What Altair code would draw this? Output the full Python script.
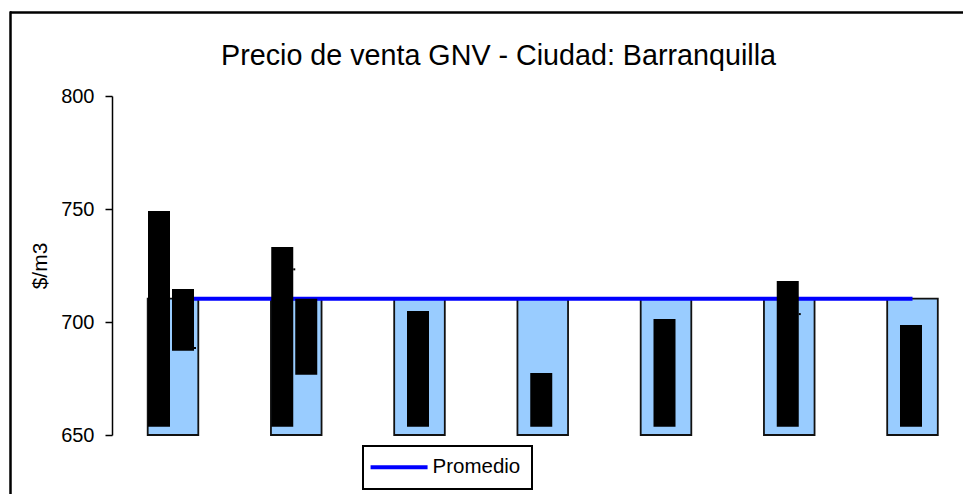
import altair as alt
import pandas as pd

# ---- data ----
categorias = ["1", "2", "3", "4", "5", "6", "7"]
promedio = 710.3
precio_min = [653.7, 653.7, 653.7, 653.7, 653.7, 653.7, 653.7]
precio_max = [749.1, 733.2, 704.9, 677.4, 701.3, 718.1, 698.7]
# second black bar, present only in the first two categories
segunda_min = [687.3, 676.7]
segunda_max = [714.6, 710.3]
# small close ticks
marca_cat = [0, 1, 5]
marca_val = [688.5, 723.3, 703.5]

FONT = "Liberation Sans"
STEP_PX = 123.25
def px(p):
    return p / STEP_PX

idx = list(range(len(categorias)))

azul = pd.DataFrame({
    "i": idx,
    "x0": [i - px(25.3) for i in idx],
    "x1": [i + px(25.3) for i in idx],
    "y0": [650] * 7,
    "y1": [promedio] * 7,
})

# main black bars: offset left when a second bar exists
dos = {0, 1}
negro_rows = []
for i in idx:
    if i in dos:
        a, b = i - px(25), i - px(3)
    else:
        a, b = i - px(12.5), i + px(9.5)
    negro_rows.append({"x0": a, "x1": b, "y0": precio_min[i], "y1": precio_max[i]})
for k, i in enumerate(sorted(dos)):
    negro_rows.append({"x0": i - px(1), "x1": i + px(21),
                       "y0": segunda_min[k], "y1": segunda_max[k]})
negro = pd.DataFrame(negro_rows)

marca_right = {0: px(21), 1: px(-3), 5: px(9.5)}
marcas = pd.DataFrame({
    "x0": [c + marca_right[c] for c in marca_cat],
    "x1": [c + marca_right[c] + px(2) for c in marca_cat],
    "y": marca_val,
})

linea = pd.DataFrame({"i": [0, 6], "v": [promedio, promedio], "serie": ["Promedio", "Promedio"]})

xs = alt.Scale(domain=[-61.0 / STEP_PX, 789.0 / STEP_PX], nice=False, zero=False)
ys = alt.Scale(domain=[650, 800], nice=False, zero=False)

yaxis = alt.Axis(values=[650, 700, 750, 800], grid=False, title="$/m3",
                 domainColor="black", domainWidth=1.5, tickColor="black",
                 tickWidth=1.5, tickSize=7, labelPadding=11,
                 labelFont=FONT, labelFontSize=20, labelColor="black",
                 titleFont=FONT, titleFontSize=21, titleFontWeight="normal",
                 titleColor="black", titleAngle=270, titleX=-66, titleY=169.5,
                 titleAlign="center", titleBaseline="alphabetic")

bars = alt.Chart(azul).mark_rect(fill="#99CCFF", stroke="#111111", strokeWidth=1.8).encode(
    x=alt.X("x0:Q", scale=xs, axis=None), x2="x1:Q",
    y=alt.Y("y0:Q", scale=ys, axis=yaxis), y2="y1:Q")

linea_ch = alt.Chart(linea).mark_line(strokeWidth=4).encode(
    x=alt.X("i:Q", scale=xs, axis=None),
    y=alt.Y("v:Q", scale=ys),
    color=alt.Color("serie:N", scale=alt.Scale(domain=["Promedio"], range=["#0000FF"]),
                    legend=alt.Legend(title=None, orient="none", legendX=251, legendY=350,
                                      symbolType="M-1.92,0H6.08", symbolStrokeWidth=4,
                                      symbolSize=203, labelFont=FONT, labelFontSize=20.5,
                                      labelColor="black", labelOffset=38,
                                      strokeColor="black", fillColor="white", padding=11)))

negro_ch = alt.Chart(negro).mark_rect(fill="black").encode(
    x=alt.X("x0:Q", scale=xs, axis=None), x2="x1:Q",
    y=alt.Y("y0:Q", scale=ys), y2="y1:Q")

marcas_ch = alt.Chart(marcas).mark_rule(color="black", strokeWidth=2).encode(
    x=alt.X("x0:Q", scale=xs, axis=None), x2="x1:Q",
    y=alt.Y("y:Q", scale=ys))

marco_top = alt.Chart(linea).mark_rule(color="black", strokeWidth=2).encode(
    x=alt.value(-102), x2=alt.value(900), y=alt.value(-83.5))
marco_left = alt.Chart(linea).mark_rule(color="black", strokeWidth=2).encode(
    x=alt.value(-101.5), y=alt.value(-84.5), y2=alt.value(500))

chart = alt.layer(bars, linea_ch, negro_ch, marcas_ch, marco_top, marco_left).properties(
    width=850, height=339,
    autosize=alt.AutoSizeParams(type="none"),
    padding={"left": 104, "top": 88, "right": 1, "bottom": 59},
    title=alt.TitleParams("Precio de venta GNV - Ciudad: Barranquilla",
                          font=FONT, fontSize=28.7, fontWeight="normal", color="black",
                          anchor="middle", dx=-38.5, baseline="alphabetic", offset=0,
                          dy=83.5),
).configure_view(stroke=None).configure_legend(strokeWidth=2)

chart.save("out.html", embed_options={"renderer": "svg", "actions": False})
